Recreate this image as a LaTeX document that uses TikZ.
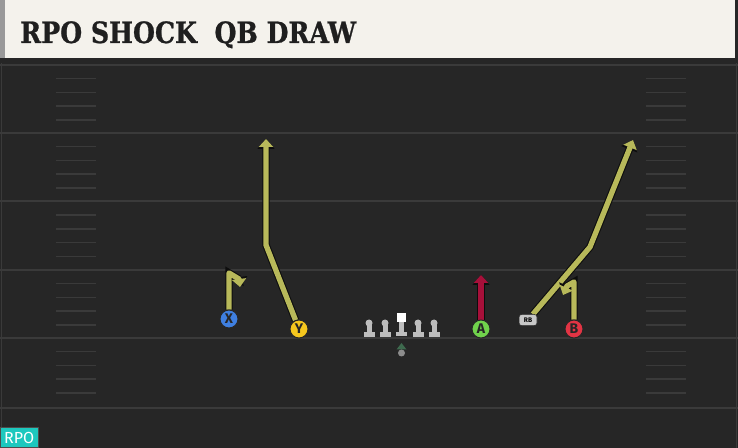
\documentclass[tikz,border=0pt]{standalone}
\usepackage{fontspec}
\setsansfont{Fira Sans}
\newfontfamily\titlefont[FakeStretch=0.86, FakeBold=0.8]{DejaVu Serif}
\usetikzlibrary{arrows.meta,backgrounds}

\definecolor{fieldbg}{HTML}{262626}
\definecolor{fieldline}{HTML}{3A3A3A}
\definecolor{headbg}{HTML}{F4F2EC}
\definecolor{routeyel}{HTML}{B8B95A}
\definecolor{routered}{HTML}{A7103A}
\definecolor{xblue}{HTML}{3F7FE0}
\definecolor{yyel}{HTML}{F5C71E}
\definecolor{agreen}{HTML}{70D24C}
\definecolor{bred}{HTML}{E23444}
\definecolor{rpoteal}{HTML}{1DC8BE}
\definecolor{qbgreen}{HTML}{3E6A4E}
\definecolor{linegray}{HTML}{BDBDBD}

\tikzset{
	player/.style={circle, draw=black!85, line width=0.7pt, minimum size=13.5pt, inner sep=0pt,
		font=\sffamily\bfseries\fontsize{10.5}{10.5}\selectfont, text=black!85},
	route/.style={line width=4pt, line join=round, -{Triangle[length=6pt,width=10.5pt]},
		preaction={draw=black!95, line width=5.6pt, -{Triangle[length=7.5pt,width=12.5pt]}}},
	yardline/.style={draw=fieldline, line width=1.5pt},
	hashmark/.style={draw=fieldline, line width=1.1pt},
}

\begin{document}
\begin{tikzpicture}[x=0.75pt, y=-0.75pt]
	\useasboundingbox (0,0) rectangle (738,448);
	% players
	\node[player, fill=xblue] (X) at (229,319) {X};
	\node[player, fill=yyel] (Y) at (299,329) {Y};
	\node[player, fill=agreen] (A) at (481,329) {A};
	\node[player, fill=bred] (B) at (574,329) {B};
	\node[draw=black!85, fill=black!22, rounded corners=2pt, minimum width=13.5pt, minimum height=8.3pt,
		inner sep=0pt, font=\sffamily\bfseries\fontsize{5}{5}\selectfont] (RB) at (528,320) {RB};
	\begin{scope}[on background layer]
		\fill[fieldbg] (0,0) rectangle (738,448);
		% header
		\fill[headbg] (0,0) rectangle (735,58);
		\fill[black!40] (0,0) rectangle (5,58);
		\fill[black!85] (0,58) rectangle (738,63);
		% field
		\draw[fieldline, line width=1.2pt] (1.5,63) -- (1.5,448);
		\draw[fieldline, line width=1.2pt] (736.5,63) -- (736.5,448);
		\foreach \yy in {65,133,201.5,270,338,408}
			\draw[yardline] (0,\yy) -- (738,\yy);
		\foreach \yy in {65,133,201.5,270,338}
			\foreach \k in {1,...,4} {
				\draw[hashmark] (56,\yy+13.7*\k) -- (96,\yy+13.7*\k);
				\draw[hashmark] (646,\yy+13.7*\k) -- (686,\yy+13.7*\k);
			}
		% routes
		\draw[route, routeyel] (X) -- (229,273) -- (239,279) -- (240,287);
		\draw[route, routeyel] (Y) -- (266,245) -- (266,139);
		\draw[route, routered] (A) -- (481,275);
		\draw[route, routeyel] (RB) -- (590,247) -- (633,140);
		\draw[route, routeyel] (B) -- (574,282) -- (567,286) -- (563,295);
	\end{scope}
	\node[anchor=base west, inner sep=0pt, text=black!88,
		font=\titlefont\bfseries\fontsize{22}{22}\selectfont] (title) at (20,43) {RPO SHOCK\ \ QB DRAW};
	% line
	\foreach \lx in {369,385,418,434} {
		\fill[linegray] (\lx-5.5,332) rectangle (\lx+5.5,337);
		\fill[linegray] (\lx-2.5,323) rectangle (\lx+2.5,332);
		\fill[linegray] (\lx,323) circle (3.5);
	}
	\fill[white] (397,313) rectangle (406,322);
	\fill[linegray] (399,322) rectangle (404,332);
	\fill[linegray] (396,332) rectangle (407,336);
	% qb
	\fill[qbgreen] (401.5,343) -- (406.5,349.5) -- (396.5,349.5) -- cycle;
	\fill[black!45] (401.5,353) circle (3.5);
	% tag
	\node[fill=rpoteal, draw=black!70, text=white, anchor=south west, minimum width=28.5pt,
		minimum height=15pt, inner sep=0pt, font=\sffamily\fontsize{12}{12}\selectfont] (tag) at (0,448) {RPO};
\end{tikzpicture}
\end{document}
